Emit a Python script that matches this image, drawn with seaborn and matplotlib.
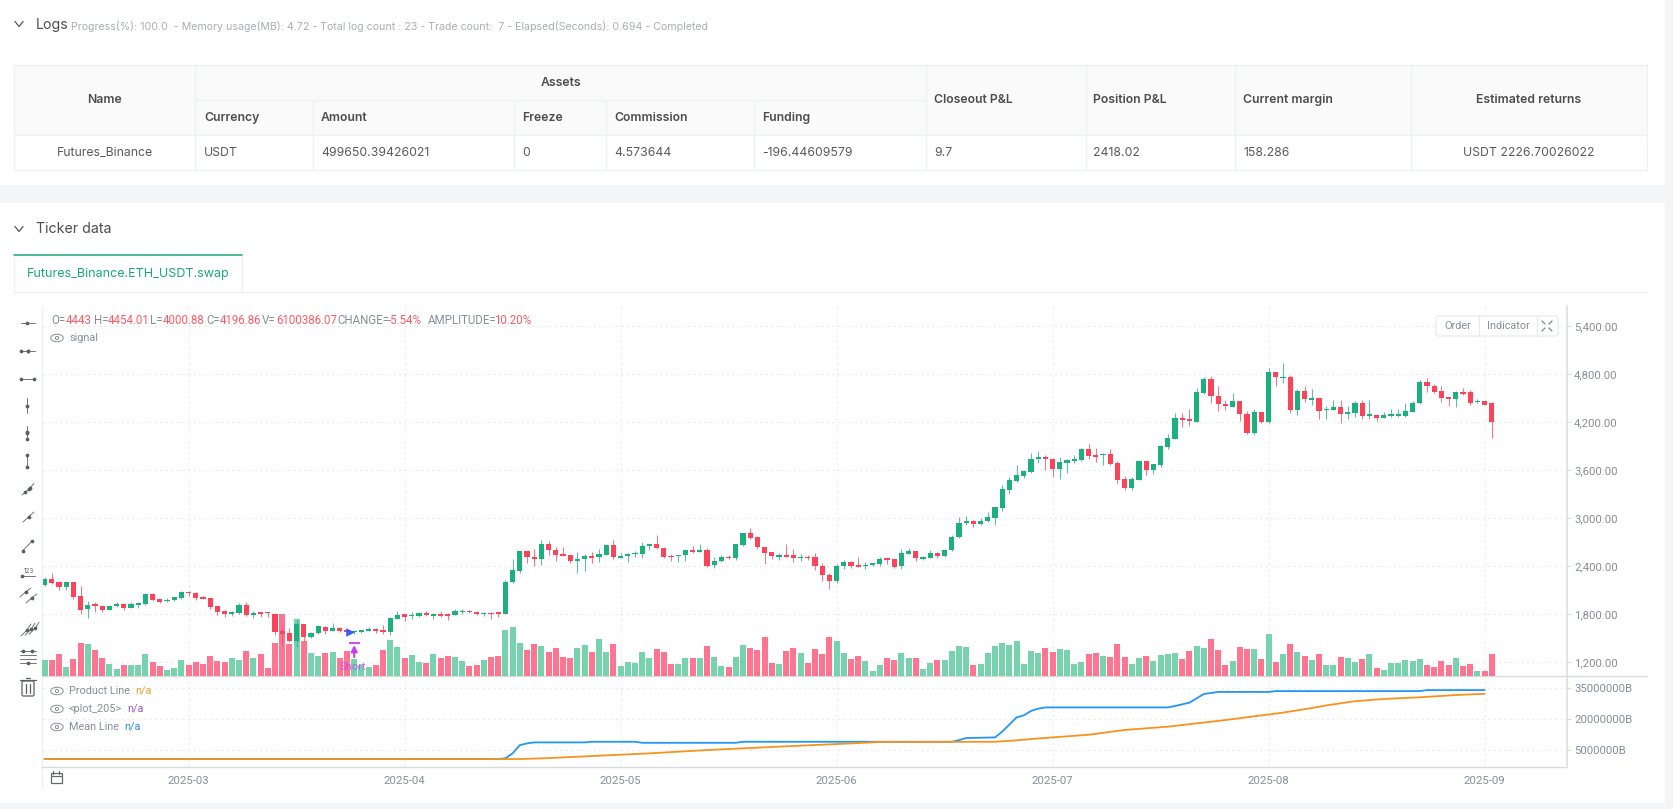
import matplotlib
matplotlib.use('Agg')
import numpy as np
import pandas as pd
import matplotlib.pyplot as plt
import seaborn as sns
from matplotlib.patches import Rectangle, Ellipse, Circle, FancyBboxPatch

# ------------------------------------------------------------
# DATA
# ------------------------------------------------------------
open_prices = [
    2158, 2233, 2196, 2137, 2200, 2021, 1858, 1917, 1904, 1854,
    1900, 1929, 1879, 1917, 1921, 2054, 1983, 1958, 1971, 2004,
    2075, 2067, 2012, 1996, 1896, 1833, 1804, 1812, 1908, 1792,
    1817, 1817, 1804, 1583, 1558, 1458, 1671, 1517, 1562, 1642,
    1592, 1621, 1587, 1571, 1575, 1592, 1612, 1587, 1575, 1742,
    1796, 1771, 1775, 1817, 1779, 1796, 1787, 1787, 1821, 1837,
    1829, 1796, 1812, 1812, 1800, 2196, 2337, 2583, 2513, 2487,
    2671, 2604, 2546, 2533, 2467, 2487, 2525, 2512, 2542, 2658,
    2504, 2521, 2546, 2550, 2646, 2671, 2625, 2529, 2521, 2533,
    2600, 2579, 2600, 2408, 2467, 2512, 2500, 2667, 2808, 2762,
    2633, 2571, 2517, 2537, 2533, 2496, 2517, 2512, 2400, 2283,
    2217, 2396, 2450, 2412, 2396, 2408, 2425, 2496, 2483, 2396,
    2554, 2583, 2487, 2504, 2562, 2529, 2596, 2758, 2942, 2958,
    2925, 2958, 3004, 3129, 3354, 3458, 3529, 3575, 3737, 3754,
    3742, 3612, 3692, 3717, 3721, 3862, 3787, 3783, 3796, 3683,
    3483, 3375, 3479, 3708, 3600, 3662, 3887, 3992, 4250, 4237,
    4204, 4558, 4733, 4529, 4429, 4392, 4462, 4304, 4058, 4325,
    4200, 4825, 4746, 4762, 4354, 4587, 4479, 4496, 4346, 4354,
    4383, 4300, 4312, 4437, 4279, 4292, 4254, 4275, 4275, 4279,
    4329, 4433, 4696, 4650, 4583, 4508, 4483, 4575, 4575, 4446,
    4458, 4443]
close_prices = [
    2237, 2187, 2137, 2196, 2008, 1854, 1912, 1904, 1850, 1904,
    1929, 1875, 1929, 1929, 2054, 1975, 1954, 1979, 2008, 2075,
    2058, 2000, 1992, 1892, 1825, 1800, 1812, 1908, 1787, 1817,
    1800, 1808, 1575, 1550, 1462, 1671, 1517, 1562, 1646, 1587,
    1621, 1583, 1579, 1583, 1592, 1617, 1587, 1575, 1746, 1792,
    1767, 1783, 1812, 1787, 1796, 1779, 1775, 1833, 1837, 1821,
    1796, 1812, 1796, 1800, 2200, 2346, 2583, 2508, 2487, 2671,
    2596, 2542, 2529, 2463, 2492, 2525, 2504, 2546, 2658, 2517,
    2521, 2546, 2562, 2646, 2671, 2621, 2517, 2508, 2533, 2600,
    2575, 2600, 2404, 2467, 2508, 2496, 2671, 2808, 2754, 2633,
    2567, 2521, 2542, 2517, 2496, 2517, 2496, 2400, 2283, 2212,
    2400, 2446, 2404, 2392, 2412, 2433, 2492, 2471, 2392, 2558,
    2583, 2500, 2517, 2558, 2529, 2604, 2762, 2937, 2954, 2929,
    2967, 3012, 3133, 3358, 3471, 3537, 3583, 3737, 3754, 3737,
    3612, 3696, 3721, 3733, 3862, 3779, 3767, 3800, 3675, 3475,
    3371, 3483, 3708, 3600, 3671, 3896, 4000, 4250, 4229, 4208,
    4575, 4733, 4521, 4421, 4396, 4462, 4300, 4058, 4325, 4200,
    4825, 4758, 4762, 4354, 4583, 4487, 4496, 4337, 4362, 4383,
    4300, 4317, 4437, 4275, 4292, 4254, 4292, 4292, 4296, 4333,
    4433, 4696, 4646, 4579, 4500, 4483, 4571, 4554, 4442, 4458,
    4417, 4196.86]
high_prices = [
    2258, 2308, 2217, 2217, 2204, 2150, 1962, 1950, 1917, 1917,
    1950, 1937, 1946, 1933, 2058, 2062, 1992, 2000, 2012, 2092,
    2092, 2079, 2021, 2000, 1904, 1846, 1842, 1933, 1950, 1833,
    1821, 1829, 1808, 1621, 1621, 1725, 1671, 1579, 1658, 1650,
    1683, 1642, 1608, 1596, 1596, 1633, 1621, 1658, 1767, 1837,
    1796, 1821, 1829, 1837, 1817, 1837, 1817, 1867, 1862, 1846,
    1842, 1825, 1821, 1825, 2221, 2487, 2583, 2592, 2613, 2725,
    2708, 2633, 2633, 2537, 2575, 2546, 2571, 2608, 2679, 2721,
    2567, 2558, 2587, 2696, 2679, 2783, 2633, 2546, 2542, 2612,
    2646, 2671, 2629, 2517, 2533, 2542, 2671, 2817, 2871, 2771,
    2642, 2575, 2562, 2671, 2612, 2546, 2537, 2562, 2442, 2312,
    2429, 2475, 2458, 2512, 2450, 2442, 2517, 2517, 2492, 2608,
    2621, 2583, 2529, 2600, 2579, 2617, 2787, 3008, 3025, 2975,
    3000, 3075, 3142, 3412, 3512, 3658, 3600, 3812, 3837, 3787,
    3750, 3758, 3733, 3783, 3871, 3929, 3871, 3808, 3858, 3708,
    3525, 3508, 3725, 3717, 3675, 3912, 4050, 4308, 4308, 4358,
    4621, 4758, 4775, 4654, 4475, 4567, 4462, 4333, 4358, 4329,
    4871, 4825, 4942, 4783, 4612, 4650, 4612, 4500, 4396, 4475,
    4475, 4400, 4467, 4471, 4475, 4304, 4321, 4362, 4367, 4433,
    4467, 4721, 4750, 4675, 4650, 4517, 4592, 4625, 4600, 4487,
    4475, 4454.01]
low_prices = [
    2150, 2175, 2096, 2100, 1983, 1800, 1746, 1829, 1821, 1850,
    1883, 1846, 1871, 1879, 1917, 1962, 1933, 1950, 1962, 1992,
    2029, 1971, 1983, 1858, 1792, 1762, 1775, 1804, 1775, 1746,
    1758, 1762, 1533, 1408, 1454, 1392, 1462, 1504, 1550, 1550,
    1587, 1571, 1537, 1550, 1567, 1583, 1567, 1550, 1537, 1733,
    1717, 1742, 1767, 1775, 1742, 1762, 1721, 1783, 1800, 1808,
    1792, 1775, 1742, 1762, 1796, 2183, 2312, 2433, 2400, 2412,
    2537, 2467, 2525, 2433, 2317, 2342, 2433, 2446, 2537, 2487,
    2496, 2454, 2517, 2504, 2600, 2612, 2504, 2467, 2454, 2462,
    2558, 2571, 2387, 2375, 2450, 2483, 2471, 2654, 2737, 2608,
    2425, 2483, 2479, 2512, 2450, 2462, 2479, 2354, 2208, 2108,
    2192, 2367, 2375, 2387, 2362, 2400, 2404, 2425, 2375, 2367,
    2546, 2467, 2479, 2500, 2504, 2517, 2587, 2754, 2912, 2892,
    2917, 2950, 2917, 3083, 3300, 3446, 3496, 3567, 3692, 3604,
    3517, 3492, 3558, 3687, 3717, 3742, 3700, 3662, 3662, 3425,
    3354, 3346, 3471, 3537, 3550, 3633, 3867, 3983, 4142, 4150,
    4200, 4550, 4433, 4342, 4350, 4383, 4212, 4050, 4042, 4187,
    4192, 4650, 4683, 4308, 4287, 4454, 4412, 4242, 4242, 4350,
    4192, 4242, 4267, 4237, 4233, 4212, 4250, 4262, 4258, 4267,
    4321, 4429, 4579, 4558, 4450, 4400, 4392, 4537, 4412, 4433,
    4408, 4000.88]
# volume in millions
volumes = [
    4.5, 4.5, 6.1, 2.5, 4.8, 9.2, 9.0, 7.4, 5.2, 3.5,
    1.9, 3.1, 3.2, 3.2, 6.3, 3.9, 2.8, 1.7, 2.2, 4.6,
    3.2, 3.8, 3.3, 5.6, 4.3, 3.8, 5.2, 4.6, 7.0, 5.2,
    6.2, 2.3, 9.3, 17.3, 9.1, 15.9, 9.8, 6.4, 5.5, 6.5,
    6.8, 5.2, 7.1, 4.9, 3.1, 2.4, 3.1, 7.3, 10.1, 8.2,
    5.2, 5.9, 3.9, 3.6, 6.3, 5.2, 5.5, 5.3, 4.2, 2.8,
    3.0, 4.5, 5.3, 5.6, 13.0, 13.7, 9.2, 7.3, 9.0, 8.5,
    6.7, 8.0, 5.4, 5.0, 7.9, 8.7, 6.8, 10.4, 6.8, 8.9,
    2.7, 3.9, 3.7, 6.8, 5.1, 7.5, 6.8, 3.4, 3.4, 5.2,
    5.1, 5.2, 8.4, 5.3, 2.7, 2.5, 5.4, 8.7, 7.8, 7.3,
    11.0, 3.6, 3.4, 7.0, 7.9, 6.6, 3.7, 7.6, 6.3, 10.9,
    9.9, 6.6, 4.9, 5.6, 4.3, 1.5, 3.1, 5.1, 4.5, 6.5,
    5.2, 5.0, 2.0, 3.6, 4.5, 4.4, 7.1, 8.4, 8.1, 3.2,
    3.5, 6.6, 8.5, 9.3, 8.7, 9.8, 3.5, 7.1, 6.6, 7.9,
    6.8, 7.6, 7.3, 3.3, 3.9, 6.1, 6.5, 5.6, 5.3, 9.1,
    5.3, 3.4, 5.2, 5.7, 4.1, 5.9, 6.1, 6.5, 4.7, 7.1,
    8.4, 7.9, 10.3, 7.3, 3.1, 4.1, 8.2, 7.5, 7.6, 4.9,
    11.8, 4.0, 6.3, 9.0, 6.7, 5.7, 4.6, 6.3, 3.0, 3.2,
    5.4, 5.2, 3.9, 4.9, 6.3, 2.2, 1.8, 3.6, 3.6, 4.6,
    4.3, 4.9, 3.2, 2.5, 4.2, 3.2, 5.2, 2.9, 3.5, 1.3,
    1.5, 6.1]

# lower pane, sampled where the line changes (values in millions)
mean_idx = [0, 63, 64, 65, 66, 67, 68, 75, 76, 82, 83, 96, 97, 126, 127, 128, 132, 133,
            135, 136, 137, 138, 139, 156, 157, 159, 160, 161, 163, 170, 171, 191, 192, 200]
mean_values = [0.65, 0.65, 1.0, 3.4, 7.4, 8.2, 8.7, 8.7, 9.0, 9.0, 8.5, 8.5, 9.0, 9.0, 9.8, 10.8, 11.1, 13.9,
               20.8, 21.8, 23.9, 25.0, 25.6, 25.6, 26.3, 27.9, 30.0, 32.1, 33.1, 33.1, 33.5, 33.5, 34.0, 34.0]
product_idx = [0, 66, 70, 76, 84, 92, 103, 112, 116, 132, 135, 138, 145, 150, 156, 164,
               172, 176, 178, 182, 186, 191, 196, 200]
product_values = [0.65, 0.65, 1.1, 2.1, 3.4, 5.0, 6.8, 8.2, 8.9, 9.0, 9.7, 10.6, 12.4, 14.7, 16.3, 19.5,
                  23.1, 25.3, 26.6, 28.6, 29.7, 30.5, 31.6, 32.2]

price_ticks = [1200, 1800, 2400, 3000, 3600, 4200, 4800, 5400]
price_labels = ['1,200.00', '1,800.00', '2,400.00', '3,000.00', '3,600.00', '4,200.00', '4,800.00', '5,400.00']
pane_ticks = [5, 20, 35]
pane_labels = ['5000000B', '20000000B', '35000000B']
date_ticks = [20, 50, 80, 110, 140, 170, 200]
date_labels = ['2025-03', '2025-04', '2025-05', '2025-06', '2025-07', '2025-08', '2025-09']

signal_idx = [42.35]
signal_price = [1575]
short_idx = [43]
short_price = [1412]

W, H = 1673, 809
GREEN, RED = '#1bb07e', '#fb4459'
GREEN_VOL, RED_VOL = '#77d3ae', '#ff7490'
GRID = '#b8bec6'
LINE = '#eef0f2'
AXIS = '#d9dbde'
GRAY = '#868e9b'
DARK = '#4d4d4d'
BODY = '#5a5a5a'
FONT = ['Inter', 'DejaVu Sans']
CHART_FONT = ['Roboto', 'DejaVu Sans']

sns.set_theme(style='white')
plt.rcParams['font.family'] = FONT

candles = pd.DataFrame({'idx': range(len(open_prices)), 'open': open_prices, 'high': high_prices,
                        'low': low_prices, 'close': close_prices, 'volume': volumes})
candles['side'] = np.where(candles['close'] >= candles['open'], 'up', 'down')


def px_axes(left, top, right, bottom, zorder):
    # axes placed with screenshot pixels (y counted from the top)
    a = fig.add_axes([left / W, 1 - bottom / H, (right - left) / W, (bottom - top) / H], zorder=zorder)
    a.patch.set_visible(False)
    return a


fig = plt.figure(figsize=(W / 100, H / 100), dpi=100, facecolor='#f4f5f7')

# ------------------------------------------------------------
# PAGE: panels and the assets table
# ------------------------------------------------------------
page = px_axes(0, 0, W, H, 0)
page.set_xlim(0, W)
page.set_ylim(H, 0)
page.axis('off')
page.add_patch(Rectangle((0, 0), 1665, 185, fc='white', ec='none'))
page.add_patch(Rectangle((0, 203), 1665, 600, fc='white', ec='none'))

page.text(36, 24.5, 'Logs', fontsize=10.2, color=DARK, va='center')
page.text(71, 26, 'Progress(%): 100.0  - Memory usage(MB): 4.72 - Total log count : 23 - Trade count:  7 - Elapsed(Seconds): 0.694 - Completed',
          fontsize=7.64, color='#a9adb3', va='center')
page.text(36, 229, 'Ticker data', fontsize=10.2, color=DARK, va='center')
for y in [24, 229]:
    page.plot([15, 19, 23], [y - 2.5, y + 2.5, y - 2.5], color='#555555', lw=0.9)

page.add_patch(Rectangle((14, 65), 1633, 70, fc='#fafafa', ec='none'))
col_edges = [14, 195, 313, 514, 606, 754, 926, 1086, 1235, 1411, 1647]
for x in col_edges:
    y0 = 100 if x in (313, 514, 606, 754) else 65
    page.plot([x, x], [y0, 170], color=LINE, lw=1)
page.plot([14, 1647], [65, 65], color=LINE, lw=1)
page.plot([195, 926], [100, 100], color=LINE, lw=1)
page.plot([14, 1647], [135, 135], color=LINE, lw=1)
page.plot([14, 1647], [170, 170], color=LINE, lw=1)

head = dict(fontsize=8.8, color=DARK, va='center', fontweight='semibold')
cell = dict(fontsize=8.8, color=BODY, va='center')
page.text(105, 100, 'Name', ha='center', **head)
page.text(561, 83, 'Assets', ha='center', **head)
for x, name, val in [(204, 'Currency', 'USDT'), (321, 'Amount', '499650.39426021'), (522, 'Freeze', '0'),
                     (614, 'Commission', '4.573644'), (762, 'Funding', '-196.44609579')]:
    page.text(x, 118, name, **head)
    page.text(x, 153, val, **cell)
for x, name, val in [(934, 'Closeout P&L', '9.7'), (1093, 'Position P&L', '2418.02'), (1243, 'Current margin', '158.286')]:
    page.text(x, 100, name, **head)
    page.text(x, 153, val, **cell)
page.text(1529, 100, 'Estimated returns', ha='center', **head)
page.text(1529, 153, 'USDT 2226.70026022', ha='center', **cell)
page.text(105, 153, 'Futures_Binance', ha='center', **cell)

# tab above the chart
page.plot([14, 1647], [292, 292], color=LINE, lw=1)
page.plot([14, 14], [255, 292], color=LINE, lw=1)
page.plot([242, 242], [255, 292], color=LINE, lw=1)
page.plot([14, 242], [255, 255], color='#1aa874', lw=1.1)
page.text(128.5, 274, 'Futures_Binance.ETH_USDT.swap', fontsize=9.0, color='#1aa874', ha='center', va='center')

# left edge and bottom edge of the chart
page.plot([42.5, 42.5], [306, 788], color=LINE, lw=1)
page.plot([42.5, 1567], [767, 767], color=AXIS, lw=1)
page.plot([42.5, 1647], [676, 676], color=AXIS, lw=1)
page.plot([1567, 1567], [306, 767], color=AXIS, lw=1.1)

# ------------------------------------------------------------
# CANDLES AND VOLUME
# ------------------------------------------------------------
# x limits: candle 0 sits at 44.6 px, 7.2 px per candle
x_left, x_right = (42.5 - 44.6) / 7.2, (1567 - 44.6) / 7.2

price_ax = px_axes(42.5, 306, 1567, 676, 3)
vol_ax = price_ax.twinx()
vol_ax.set_zorder(2)
vol_ax.patch.set_visible(False)
sns.barplot(data=candles, x='idx', y='volume', hue='side', hue_order=['up', 'down'],
            palette={'up': GREEN_VOL, 'down': RED_VOL}, dodge=False, native_scale=True,
            width=0.84, saturation=1, legend=False, linewidth=0, ax=vol_ax)
vol_ax.set_ylim(0, 104)
vol_ax.set_yticks([])
vol_ax.set_ylabel('')

for side, color in [('up', GREEN), ('down', RED)]:
    part = candles[candles['side'] == side]
    price_ax.vlines(part['idx'], part['low'], part['high'], color=color, lw=0.75, alpha=0.75, zorder=3)
    body_low = part[['open', 'close']].min(axis=1)
    body_high = part[['open', 'close']].max(axis=1)
    price_ax.bar(part['idx'], (body_high - body_low).clip(lower=22), bottom=body_low, width=0.72,
                 color=color, linewidth=0, zorder=4)

price_ax.set_ylim(1025, 5650)
price_ax.set_xlim(x_left, x_right)
vol_ax.set_xlim(x_left, x_right)
vol_ax.set_xlabel('')
price_ax.set_xticks(date_ticks)
price_ax.set_xticklabels([])
price_ax.yaxis.tick_right()
price_ax.set_yticks(price_ticks)
price_ax.set_yticklabels(price_labels, family=CHART_FONT)
price_ax.tick_params(axis='y', length=3, width=0.8, color=AXIS, labelcolor=GRAY, labelsize=8.2, pad=2)
price_ax.tick_params(axis='x', length=0)
price_ax.grid(True, color=GRID, alpha=0.3, linestyle=(0, (2, 3)), linewidth=0.8)
price_ax.set_axisbelow(True)
for a in [price_ax, vol_ax]:
    sns.despine(ax=a, left=True, bottom=True, right=True, top=True)

# trade markers
sns.scatterplot(x=signal_idx, y=signal_price, marker='>', s=38, color='#3d5afe', linewidth=0, ax=price_ax, zorder=6)
price_ax.annotate('', xy=(short_idx[0], short_price[0]), xytext=(short_idx[0], short_price[0] - 150),
                  arrowprops=dict(arrowstyle='-|>', color='#c83cf5', lw=1.5, mutation_scale=9, shrinkA=0, shrinkB=0), zorder=6)
price_ax.hlines(short_price[0] + 30, short_idx[0] - 0.75, short_idx[0] + 0.75, color='#c83cf5', lw=1.3, zorder=6)

# ------------------------------------------------------------
# LOWER PANE
# ------------------------------------------------------------
line_ax = px_axes(42.5, 676, 1567, 767, 3)
sns.lineplot(x=mean_idx, y=mean_values, color='#2196f3', linewidth=1.3, errorbar=None, ax=line_ax)
sns.lineplot(x=product_idx, y=product_values, color='#f5931e', linewidth=1.3, errorbar=None, ax=line_ax)
line_ax.set_ylim(-3.2, 40.8)
line_ax.set_xlim(x_left, x_right)
line_ax.yaxis.tick_right()
line_ax.set_yticks(pane_ticks)
line_ax.set_yticklabels(pane_labels, family=CHART_FONT)
line_ax.set_xticks(date_ticks)
line_ax.set_xticklabels(date_labels, family=CHART_FONT)
line_ax.tick_params(axis='y', length=3, width=0.8, color=AXIS, labelcolor=GRAY, labelsize=8.2, pad=2)
line_ax.tick_params(axis='x', length=3, width=0.8, color=AXIS, labelcolor=GRAY, labelsize=8.2, pad=3.5)
line_ax.grid(True, color=GRID, alpha=0.3, linestyle=(0, (2, 3)), linewidth=0.8)
line_ax.set_axisbelow(True)
sns.despine(ax=line_ax, left=True, bottom=True, right=True, top=True)

# ------------------------------------------------------------
# OVERLAY: legends, buttons, drawing toolbar
# ------------------------------------------------------------
top = px_axes(0, 0, W, H, 6)
top.set_xlim(0, W)
top.set_ylim(H, 0)
top.axis('off')

top.text(353, 667, 'Short', fontsize=8, color='#c83cf5', alpha=0.75, ha='center', va='center', family=CHART_FONT)

# OHLC readout, label and value pieces
RED_TEXT = '#ff5a66'
for x, txt, col in [(51.5, 'O=', GRAY), (66, '4443', RED_TEXT), (94, 'H=', GRAY), (108, '4454.01', RED_TEXT),
                    (150.5, 'L=', GRAY), (163, '4000.88', RED_TEXT), (206, 'C=', GRAY), (220, '4196.86', RED_TEXT),
                    (262, 'V=', GRAY), (276, '6100386.07', RED_TEXT), (337, 'CHANGE=', GRAY), (388, '-5.54%', RED_TEXT),
                    (427.5, 'AMPLITUDE=', GRAY), (494, '10.20%', RED_TEXT)]:
    top.text(x, 320, txt, fontsize=8.3, color=col, va='center', family=CHART_FONT)


def eye(x, y):
    top.add_patch(Ellipse((x, y), 12.5, 7.5, fc='none', ec=GRAY, lw=0.7))
    top.add_patch(Circle((x, y), 1.6, fc='none', ec=GRAY, lw=0.7))


eye(57, 338)
top.text(69, 338, 'signal', fontsize=7.8, color=GRAY, va='center', family=CHART_FONT)
for y, name, x_val, val, col in [(691, 'Product Line', 135, 'n/a', '#f5a02c'),
                                 (709, '<plot_205>', 127, 'n/a', '#9b59d0'),
                                 (727, 'Mean Line', 124, 'n/a', '#2f8fff')]:
    eye(57, y)
    top.text(68.6, y, name, fontsize=7.8, color=GRAY, va='center', family=CHART_FONT)
    top.text(x_val, y, val, fontsize=7.8, color=col, va='center', family=CHART_FONT)

# Order / Indicator buttons
top.add_patch(FancyBboxPatch((1436, 316), 122, 20, boxstyle='round,pad=0,rounding_size=3', fc='white', ec='#e8eaed', lw=0.9))
top.plot([1479, 1479], [316, 336], color='#e8eaed', lw=0.9)
top.plot([1537, 1537], [316, 336], color='#e8eaed', lw=0.9)
top.text(1457.5, 326, 'Order', fontsize=7.8, color=GRAY, ha='center', va='center', family=CHART_FONT)
top.text(1508, 326, 'Indicator', fontsize=7.8, color=GRAY, ha='center', va='center', family=CHART_FONT)
for sx, sy in [(-1, -1), (1, -1), (-1, 1), (1, 1)]:
    top.plot([1547 + sx * 2, 1547 + sx * 5], [326 + sy * 2, 326 + sy * 5], color='#7d838c', lw=0.9)

# toolbar icons
ICON = '#5b5f66'
DOT = 1.7


def icon(xs, ys, dots=True):
    top.plot(xs, ys, color=ICON, lw=0.6)
    if dots:
        top.plot(xs[1:-1] if len(xs) > 2 else xs, ys[1:-1] if len(ys) > 2 else ys, ls='', marker='o', ms=DOT, color=ICON)


icon([21, 27.5, 35], [322.5, 322.5, 322.5])
icon([21, 28.5, 35], [350.5, 350.5, 350.5])
top.plot([21.5, 28.5], [350.5, 350.5], ls='', marker='o', ms=DOT, color=ICON)
icon([21.5, 34.5], [378.5, 378.5])
icon([27.5, 27.5, 27.5], [398, 405.5, 413])
icon([27.5, 27.5, 27.5], [426, 433, 439])
top.plot([27.5, 27.5], [432, 439], ls='', marker='o', ms=DOT, color=ICON)
icon([27.5, 27.5], [455, 467])
icon([22, 29, 34], [495, 489, 483.5])
top.plot([25, 30], [492, 487.5], ls='', marker='o', ms=DOT, color=ICON)
icon([23, 29, 34], [522, 516.5, 512])
icon([23, 32], [550.5, 541])
top.plot([21, 35], [575.5, 575.5], color=ICON, lw=0.6)
top.plot([22], [575.5], ls='', marker='o', ms=DOT, color=ICON)
top.text(28.5, 571, '123', fontsize=4.5, color=ICON, ha='center', va='center')
for dx, dy in [(0, 0), (6, 6)]:
    icon([20 + dx, 26 + dx, 31 + dx], [603 + dy - 6, 597 + dy - 6 + 0.5, 588 + dy], dots=True)
for dx in [0, 4, 8]:
    icon([21 + dx, 27 + dx, 31 + dx], [636 - dx * 0.2, 630 - dx * 0.2, 624 - dx * 0.2])
for y in [651, 655, 659, 663]:
    top.plot([20, 36], [y, y], color=ICON, lw=0.6)
top.plot([23, 32, 28], [651, 651, 663], ls='', marker='o', ms=DOT, color=ICON)
# trash can
top.add_patch(FancyBboxPatch((22, 681), 12, 15, boxstyle='round,pad=0,rounding_size=1.5', fc='white', ec=ICON, lw=0.9))
top.plot([20, 36], [680, 680], color=ICON, lw=0.9)
top.plot([26, 30], [677.5, 677.5], color=ICON, lw=0.9)
top.plot([26, 26], [684, 693], color=ICON, lw=0.9)
top.plot([30, 30], [684, 693], color=ICON, lw=0.9)
# calendar
top.add_patch(Rectangle((51, 772.5), 11, 10, fc='none', ec='#666a70', lw=0.9))
top.plot([51, 62], [775.5, 775.5], color='#666a70', lw=0.9)
top.plot([53.5, 53.5], [771, 774], color='#666a70', lw=0.9)
top.plot([59.5, 59.5], [771, 774], color='#666a70', lw=0.9)

fig.savefig('out.png', dpi=100, facecolor=fig.get_facecolor())
